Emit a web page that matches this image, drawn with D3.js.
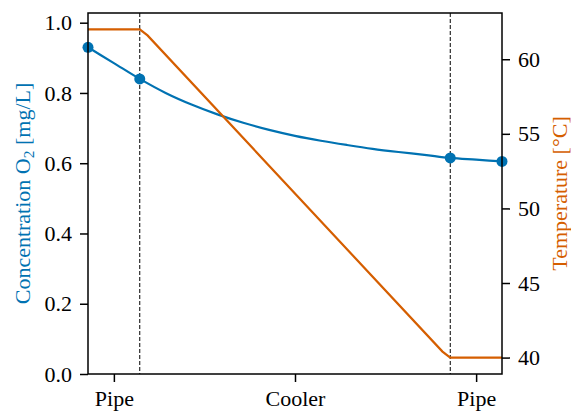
<!DOCTYPE html>
<html>
<head>
<meta charset="utf-8">
<script src="https://cdn.jsdelivr.net/npm/d3@7"></script>
<style>
  html, body { margin: 0; padding: 0; background: #fff; }
  svg { display: block; }
  text { font-family: "Liberation Serif", "Times New Roman", serif; }
</style>
</head>
<body>
<svg id="chart" width="571" height="412"></svg>
<script>
// Position along the flow path (pipe 0-1, cooler 1-7, pipe 7-8)
const sectionBounds = [1, 7];
const sectionTicks = [0.5, 4, 7.5];
const sectionLabels = ["Pipe", "Cooler", "Pipe"];

// Dissolved oxygen concentration [mg/L]
const o2X = [0, 0.5, 1, 1.5, 2, 2.5, 3, 3.5, 4, 4.5, 5, 5.5, 6, 6.5, 7, 7.5, 8];
const o2Y = [0.93, 0.885, 0.84, 0.80, 0.767, 0.739, 0.715, 0.695, 0.678, 0.664, 0.652, 0.641, 0.632, 0.624, 0.615, 0.61, 0.605];
const o2MarkerX = [0, 1, 7, 8];
const o2MarkerY = [0.93, 0.84, 0.615, 0.605];

// Temperature [°C]
const tempX = [0, 1, 1.15, 6.85, 7, 8];
const tempY = [62, 62, 61.6, 40.4, 40, 40];

const leftTicks = [0, 0.2, 0.4, 0.6, 0.8, 1.0];
const rightTicks = [40, 45, 50, 55, 60];

const blue = "#0072B2";
const orange = "#D55E00";
const fontSize = 22;
const serif = "'Liberation Serif', 'Times New Roman', serif";

const margin = { left: 88, right: 69, top: 13, bottom: 38 };
const W = 571, H = 412;
const x0 = margin.left, x1 = W - margin.right;
const y0 = H - margin.bottom, y1 = margin.top;

const svg = d3.select("#chart");

const x = d3.scaleLinear().domain([0, 8]).range([x0, x1]);
const yL = d3.scaleLinear().domain([0, 1.0276]).range([y0, y1]);
const yR = d3.scaleLinear().domain([38.9, 63.1]).range([y0, y1]);

// Section boundaries
svg.append("g").selectAll("line").data(sectionBounds).join("line")
  .attr("x1", d => x(d)).attr("x2", d => x(d))
  .attr("y1", y1).attr("y2", y0)
  .attr("stroke", "#000").attr("stroke-width", 1)
  .attr("stroke-dasharray", "4,2");

// Oxygen curve
const o2Data = o2X.map((v, i) => [v, o2Y[i]]);
svg.append("path")
  .datum(o2Data)
  .attr("fill", "none")
  .attr("stroke", blue)
  .attr("stroke-width", 2.2)
  .attr("d", d3.line().curve(d3.curveMonotoneX).x(d => x(d[0])).y(d => yL(d[1])));

svg.append("g").selectAll("circle").data(o2MarkerX.map((v, i) => [v, o2MarkerY[i]])).join("circle")
  .attr("cx", d => x(d[0])).attr("cy", d => yL(d[1]))
  .attr("r", 5.5).attr("fill", blue);

// Temperature curve
const tempData = tempX.map((v, i) => [v, tempY[i]]);
svg.append("path")
  .datum(tempData)
  .attr("fill", "none")
  .attr("stroke", orange)
  .attr("stroke-width", 2.2)
  .attr("d", d3.line().x(d => x(d[0])).y(d => yR(d[1])));

// Axes
function styleAxis(g) {
  g.attr("font-family", serif).attr("font-size", fontSize);
  g.select(".domain").remove();
  g.selectAll(".tick line").attr("stroke", "#000").attr("stroke-width", 1.5);
  g.selectAll(".tick text").attr("fill", "#000");
}

svg.append("g")
  .attr("transform", `translate(${x0},0)`)
  .call(d3.axisLeft(yL).tickValues(leftTicks).tickFormat(d3.format(".1f")).tickSize(8).tickPadding(8))
  .call(styleAxis);

svg.append("g")
  .attr("transform", `translate(${x1},0)`)
  .call(d3.axisRight(yR).tickValues(rightTicks).tickFormat(d3.format("d")).tickSize(8).tickPadding(8))
  .call(styleAxis);

svg.append("g")
  .attr("transform", `translate(0,${y0})`)
  .call(d3.axisBottom(x).tickValues(sectionTicks).tickFormat((d, i) => sectionLabels[i]).tickSize(8).tickPadding(8))
  .call(styleAxis);

// Frame
svg.append("rect")
  .attr("x", x0).attr("y", y1)
  .attr("width", x1 - x0).attr("height", y0 - y1)
  .attr("fill", "none").attr("stroke", "#000").attr("stroke-width", 1.5);

// Axis titles
const yMid = (y0 + y1) / 2;
const leftTitle = svg.append("text")
  .attr("transform", `translate(30,${yMid}) rotate(-90)`)
  .attr("text-anchor", "middle")
  .attr("fill", blue)
  .attr("font-family", serif)
  .attr("font-size", fontSize);
leftTitle.append("tspan").text("Concentration O");
leftTitle.append("tspan").attr("dy", 4).attr("font-size", fontSize * 0.7).text("2");
leftTitle.append("tspan").attr("dy", -4).text(" [mg/L]");

svg.append("text")
  .attr("transform", `translate(567,${yMid}) rotate(-90)`)
  .attr("text-anchor", "middle")
  .attr("fill", orange)
  .attr("font-family", serif)
  .attr("font-size", fontSize)
  .text("Temperature [°C]");
</script>
</body>
</html>
